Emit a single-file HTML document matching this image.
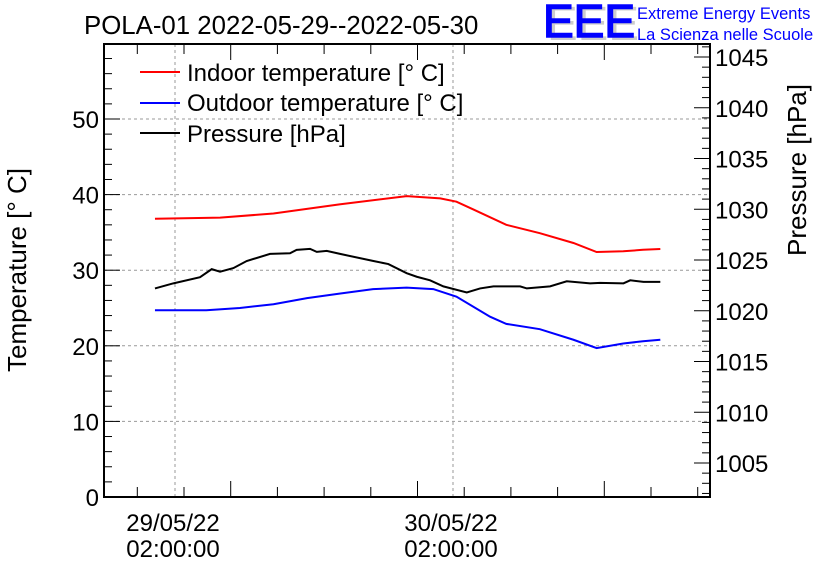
<!DOCTYPE html>
<html><head><meta charset="utf-8"><style>
body{margin:0;background:#fff}
svg text{font-family:"Liberation Sans",sans-serif}
</style></head><body>
<svg id="c" width="836" height="572" viewBox="0 0 836 572">
<text x="84" y="34" font-size="25.8">POLA-01 2022-05-29--2022-05-30</text>
<g>
<text x="547" y="40" font-size="46" fill="#ccc" transform="translate(547,40) scale(1,1.05) translate(-547,-40)">EEE</text>
<text x="543" y="37" font-size="46" fill="#0000ff" stroke="#0000ff" stroke-width="1.5">EEE</text>
<text x="637" y="19" font-size="16.5" fill="#0000ff">Extreme Energy Events</text>
<text x="637" y="40" font-size="16.5" fill="#0000ff">La Scienza nelle Scuole</text>
</g>
<g id="grid"></g>
<g id="axes"></g>
<g id="series"></g>
<text transform="translate(26,270) rotate(-90)" text-anchor="middle" font-size="26">Temperature [° C]</text>
<text transform="translate(806,170) rotate(-90)" text-anchor="middle" font-size="26">Pressure [hPa]</text>
<g>
<line x1="140" y1="72" x2="180" y2="72" stroke="#f00" stroke-width="2"/>
<text x="187" y="81" font-size="24">Indoor temperature [° C]</text>
<line x1="140" y1="103" x2="180" y2="103" stroke="#00f" stroke-width="2"/>
<text x="187" y="111" font-size="24">Outdoor temperature [° C]</text>
<line x1="140" y1="133" x2="180" y2="133" stroke="#000" stroke-width="2"/>
<text x="187" y="142" font-size="24">Pressure [hPa]</text>
</g>
</svg>
<script>
const indoorHours=[0.27,5.9,10.5,16.2,22.0,24.9,26.3,27.8,30.6,33.5,36.4,38.4,40.7,42.4,43.9];
const indoorTemp=[36.8,36.95,37.5,38.7,39.8,39.5,39.06,38.0,36.0,34.9,33.6,32.4,32.5,32.7,32.8];
const outdoorHours=[0.27,4.7,7.6,10.5,13.4,16.2,19.1,22.0,24.3,26.3,29.2,30.6,33.5,36.4,38.4,40.7,42.4,43.9];
const outdoorTemp=[24.7,24.7,25.0,25.5,26.3,26.9,27.5,27.7,27.5,26.5,23.85,22.9,22.2,20.8,19.7,20.3,20.6,20.8];
const pressHours=[0.27,1.86,4.16,5.17,5.89,7.04,8.19,10.2,11.93,12.5,13.66,14.24,15.1,16.25,19.13,20.42,22.0,22.87,24.02,25.17,27.19,28.34,29.49,31.8,32.37,34.38,35.82,37.84,38.7,40.72,41.3,42.45,43.9];
const pressure=[1022.2,1022.7,1023.3,1024.1,1023.85,1024.2,1024.9,1025.6,1025.66,1026.0,1026.1,1025.8,1025.9,1025.6,1024.9,1024.6,1023.7,1023.35,1023.0,1022.4,1021.8,1022.2,1022.4,1022.4,1022.2,1022.4,1022.9,1022.7,1022.75,1022.7,1023.0,1022.85,1022.85];
const leftTicks=[0,10,20,30,40,50];
const rightTicks=[1005,1010,1015,1020,1025,1030,1035,1040,1045];
const xLabelHours=[2,26];
const xLabelDates=["29/05/22","30/05/22"];
const xLabelTimes=["02:00:00","02:00:00"];

const L=104,R=710,T=44,B=497;
const xs=h=>175+(h-2)*11.583;
const yT=v=>497-v*7.56;
const yP=v=>463-(v-1005)*10.15;
const NS="http://www.w3.org/2000/svg";
function mk(p,tag,a){const e=document.createElementNS(NS,tag);for(const k in a)e.setAttribute(k,a[k]);p.appendChild(e);return e;}
const g=document.getElementById('grid'),ax=document.getElementById('axes'),s=document.getElementById('series');
leftTicks.forEach(v=>{if(v>0){const l=mk(g,'line',{x1:L,x2:R,y1:yT(v),y2:yT(v),stroke:'#999','stroke-dasharray':'3,3'});

}});
xLabelHours.forEach(h=>{const l=mk(g,'line',{x1:xs(h),x2:xs(h),y1:T,y2:B,stroke:'#999','stroke-dasharray':'3,3'});

});
const fr=mk(ax,'rect',{x:L,y:T,width:R-L,height:B-T,fill:'none',stroke:'#000','stroke-width':2});


for(let v=0;v<=60;v+=2){const y=yT(v);if(y<T)break;const len=v%10===0?16:8;mk(ax,'line',{x1:L,x2:L+len,y1:y,y2:y,stroke:'#000'});}
leftTicks.forEach(v=>{const t=mk(ax,'text',{x:L-5,y:yT(v)+9,'text-anchor':'end','font-size':24});t.textContent=v;

});
for(let v=1002;v<=1046;v++){const y=yP(v);if(y>B||y<T)continue;const len=v%5===0?16:8;mk(ax,'line',{x1:R-len,x2:R,y1:y,y2:y,stroke:'#000'});}
rightTicks.forEach(v=>{const t=mk(ax,'text',{x:R+5,y:yP(v)+9,'font-size':24});t.textContent=v;

});
for(let i=0;;i++){const x=137.3+i*46.7;if(x>R)break;const len=i%4===2?16:10;
mk(ax,'line',{x1:x,x2:x,y1:B,y2:B-len,stroke:'#000'});mk(ax,'line',{x1:x,x2:x,y1:T,y2:T+len,stroke:'#000'});}
xLabelHours.forEach((h,i)=>{const t1=mk(ax,'text',{x:xs(h)-2,y:531,'text-anchor':'middle','font-size':24});t1.textContent=xLabelDates[i];


const t2=mk(ax,'text',{x:xs(h)-2,y:557,'text-anchor':'middle','font-size':24});t2.textContent=xLabelTimes[i];

});
function line(hs,vs,fy,col,name){const p=mk(s,'polyline',{points:hs.map((h,i)=>xs(h)+','+fy(vs[i])).join(' '),fill:'none',stroke:col,'stroke-width':2});

}
line(indoorHours,indoorTemp,yT,'#f00','indoor-temperature-line');
line(outdoorHours,outdoorTemp,yT,'#00f','outdoor-temperature-line');
line(pressHours,pressure,yP,'#000','pressure-line');
</script>
</body></html>
